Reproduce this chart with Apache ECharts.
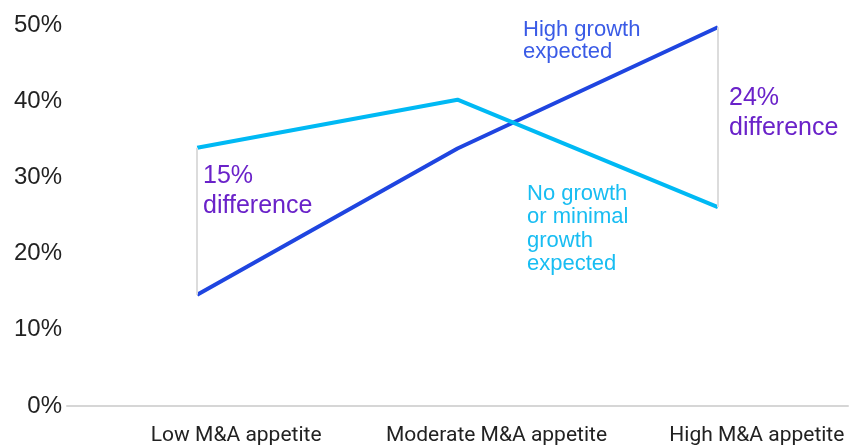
<!DOCTYPE html>
<html>
<head>
<meta charset="utf-8">
<script src="https://cdn.jsdelivr.net/npm/echarts@6/dist/echarts.min.js"></script>
<style>
  html, body { margin: 0; padding: 0; background: #fff; }
  #chart { width: 861px; height: 447px; }
</style>
</head>
<body>
<div id="chart"></div>
<script>
// categories and values
var categories = ['Low M&A appetite', 'Moderate M&A appetite', 'High M&A appetite'];
var highGrowth = [14.6, 33.8, 49.7];
var noGrowth = [33.9, 40.2, 26.1];
var yTicks = [0, 10, 20, 30, 40, 50];

var darkBlue = '#1f45e0';
var lightBlue = '#00b9f4';
var purple = '#6a22c9';

var chart = echarts.init(document.getElementById('chart'));

var option = {
  backgroundColor: '#fff',
  animation: false,
  grid: { left: 67, right: 13, top: 25, bottom: 41 },
  xAxis: {
    type: 'category',
    data: categories,
    boundaryGap: true,
    axisLine: { lineStyle: { color: '#d6d6d6', width: 2 } },
    axisTick: { show: false },
    axisLabel: {
      margin: 19,
      interval: 0,
      formatter: function (v) { return '{a|' + v + '}'; },
      rich: {
        a: {
          fontFamily: 'Roboto, sans-serif',
          fontSize: 21,
          color: '#222',
          padding: [0, 0, 0, 78]
        }
      }
    }
  },
  yAxis: {
    type: 'value',
    min: yTicks[0],
    max: yTicks[yTicks.length - 1],
    interval: 10,
    axisLine: { show: false },
    axisTick: { show: false },
    splitLine: { show: false },
    axisLabel: {
      margin: 5,
      fontFamily: 'Liberation Sans, Arial, sans-serif',
      fontSize: 24,
      color: '#222',
      formatter: '{value}%'
    }
  },
  series: [
    {
      name: 'High growth expected',
      type: 'line',
      data: highGrowth,
      symbol: 'none',
      z: 3,
      lineStyle: { color: darkBlue, width: 4 }
    },
    {
      name: 'No growth or minimal growth expected',
      type: 'line',
      data: noGrowth,
      symbol: 'none',
      z: 3,
      lineStyle: { color: lightBlue, width: 4 },
      markLine: {
        silent: true,
        symbol: 'none',
        label: { show: false },
        lineStyle: { color: '#dcdcdc', width: 2, type: 'solid' },
        data: [
          [{ coord: [0, noGrowth[0]] }, { coord: [0, highGrowth[0]] }],
          [{ coord: [2, highGrowth[2]] }, { coord: [2, noGrowth[2]] }]
        ]
      }
    }
  ],
  graphic: [
    {
      type: 'text', left: 523, top: 19,
      style: { text: 'High growth\nexpected', fill: '#3a5be6', font: '22px "Liberation Sans", Arial, sans-serif', lineHeight: 22 }
    },
    {
      type: 'text', left: 527, top: 182,
      style: { text: 'No growth\nor minimal\ngrowth\nexpected', fill: '#18bdf2', font: '22px "Liberation Sans", Arial, sans-serif', lineHeight: 23.5 }
    },
    {
      type: 'text', left: 729, top: 83,
      style: { text: '24%\ndifference', fill: purple, font: '25px "Liberation Sans", Arial, sans-serif', lineHeight: 30 }
    },
    {
      type: 'text', left: 203, top: 161,
      style: { text: '15%\ndifference', fill: purple, font: '25px "Liberation Sans", Arial, sans-serif', lineHeight: 30 }
    }
  ]
};

chart.setOption(option);
</script>
</body>
</html>
